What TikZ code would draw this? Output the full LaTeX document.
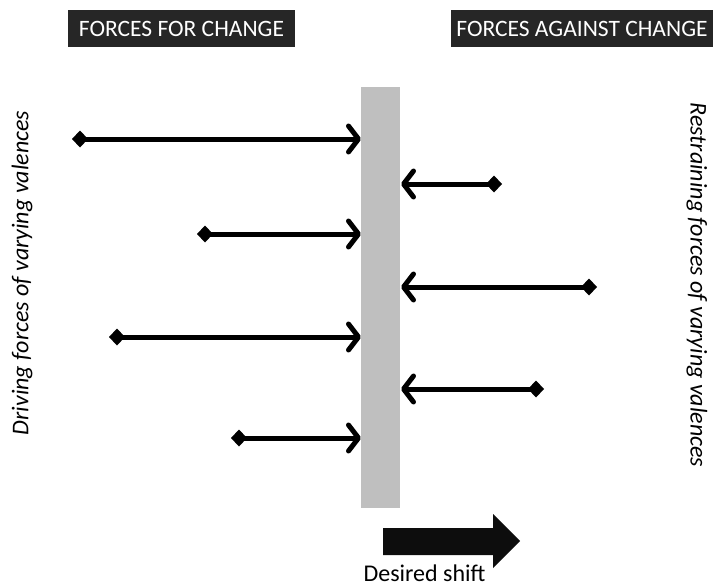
\documentclass[tikz,border=0pt]{standalone}
\usepackage{fontspec}
\setmainfont{Carlito}
\usetikzlibrary{arrows.meta}
\begin{document}
\begin{tikzpicture}[x=1pt,y=-1pt,
  header/.style={fill=black!85,text=white,font=\fontsize{23.5}{26}\selectfont,inner sep=0pt,anchor=center},
  force/.style={line width=5pt,{Diamond[length=16pt,width=17pt,line width=0pt]}-{Straight Barb[length=10pt,width=26pt,line width=5pt,round]}},
  side/.style={font=\fontsize{24}{26}\selectfont\itshape}]
\useasboundingbox (0,0) rectangle (715,586);
\node[header,minimum width=227pt,minimum height=37pt] (hl) at (181.5,28.5) {FORCES FOR CHANGE};
\node[header,minimum width=262pt,minimum height=37pt] (hr) at (582,28.5) {FORCES AGAINST CHANGE};
\node[fill=black!25,minimum width=39pt,minimum height=421pt,inner sep=0pt] (bar) at (380.5,297.5) {};
% driving forces
\coordinate (l1) at (72,139);  \coordinate (h1) at (361,139);
\coordinate (l2) at (197,234); \coordinate (h2) at (361,234);
\coordinate (l3) at (109,337); \coordinate (h3) at (361,337);
\coordinate (l4) at (231,438); \coordinate (h4) at (361,438);
\foreach \i in {1,...,4} \draw[force] (l\i) -- (h\i);
% restraining forces
\coordinate (r1) at (502,184); \coordinate (g1) at (401,184);
\coordinate (r2) at (597,287); \coordinate (g2) at (401,287);
\coordinate (r3) at (544,389); \coordinate (g3) at (401,389);
\foreach \i in {1,...,3} \draw[force] (r\i) -- (g\i);
% desired shift
\fill[black!95] (383,528) -- (493,528) -- (493,514) -- (520,541) -- (493,568) -- (493,555) -- (383,555) -- cycle;
\node[font=\fontsize{24}{26}\selectfont,anchor=base,inner sep=0pt] (ds) at (424.5,581.5) {Desired shift};
\node[side,rotate=90] (dl) at (22,273) {Driving forces of varying valences};
\node[side,rotate=-90] (dr) at (697,285) {Restraining forces of varying valences};
\end{tikzpicture}
\end{document}
